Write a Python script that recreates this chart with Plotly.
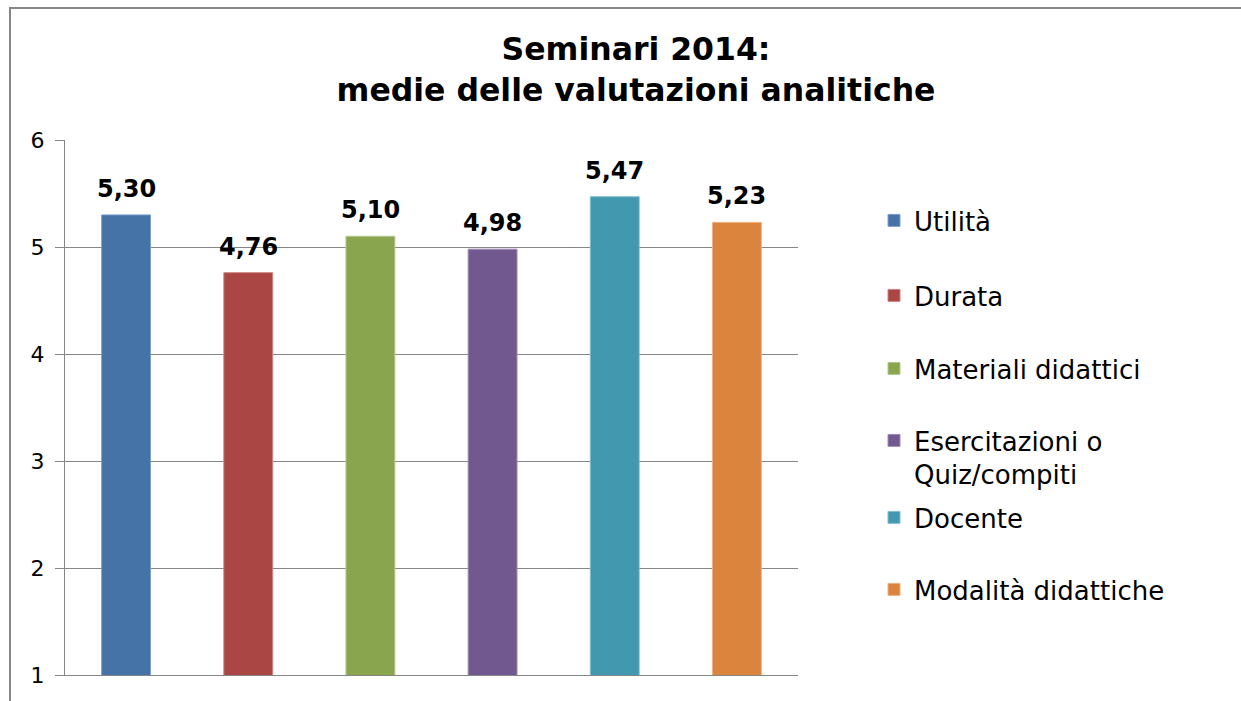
import plotly.graph_objects as go

categories = ["Utilità", "Durata", "Materiali didattici",
              "Esercitazioni o<br>Quiz/compiti", "Docente", "Modalità didattiche"]
values = [5.30, 4.76, 5.10, 4.98, 5.47, 5.23]
colors = ["#4572A7", "#AA4643", "#89A54E", "#71588F", "#4198AF", "#DB843D"]
edge_colors = ["#7F9FCB", "#CC8482", "#B1C98C", "#A08DB8", "#80BFD0", "#EEB085"]
y_ticks = [1, 2, 3, 4, 5, 6]
legend_item_y = [221, 296, 369, 441, 518, 590]  # pixel centre of each legend entry

W, H = 1241, 701
FONT = "DejaVu Sans"

fig = go.Figure()
legend_layouts = {}
for i, (name, v, c, ec) in enumerate(zip(categories, values, colors, edge_colors)):
    lg = "legend" if i == 0 else f"legend{i + 1}"
    fig.add_trace(go.Bar(
        x=[i], y=[v], name=name, width=0.4,
        marker=dict(color=c, line=dict(color=ec, width=1)),
        legend=lg,
        hoverinfo="skip",
    ))
    fig.add_annotation(
        x=i, y=v, xref="x", yref="y", text=f"<b>{v:.2f}</b>".replace(".", ","),
        showarrow=False, yanchor="bottom", yshift=10,
        font=dict(family=FONT, size=24, color="black"),
    )
    legend_layouts[lg] = dict(
        x=874 / W, xanchor="left", xref="container",
        y=1 - (legend_item_y[i] - 24) / H, yanchor="top", yref="container",
        font=dict(family=FONT, size=26, color="black"),
        valign="top", bgcolor="rgba(0,0,0,0)", maxheight=650,
    )

# chart-area border (cropped at right/bottom)
PL, PR, PT, PB = 65, 798, 140, 675
fig.add_shape(type="rect", xref="paper", yref="paper",
              x0=(10 - PL) / (PR - PL), x1=(1250 - PL) / (PR - PL),
              y0=(PB - 710) / (PB - PT), y1=(PB - 8) / (PB - PT),
              line=dict(color="#868686", width=2), fillcolor="rgba(0,0,0,0)",
              layer="below")

fig.update_layout(
    width=W, height=H,
    margin=dict(l=PL, r=W - PR, t=PT, b=H - PB),
    paper_bgcolor="white", plot_bgcolor="white",
    barmode="overlay",
    separators=",.",
    font=dict(family=FONT, color="black"),
    title=dict(
        text="<b>Seminari 2014:<br>medie delle valutazioni analitiche</b>",
        x=636 / W, xanchor="center", xref="container",
        y=1 - 60 / H, yanchor="top", yref="container",
        font=dict(family=FONT, size=31.5, color="black"),
    ),
    showlegend=True,
    **legend_layouts,
)
fig.update_xaxes(range=[-0.5, 5.5], showticklabels=False, ticks="",
                 showgrid=False, zeroline=False, showline=True,
                 linecolor="#868686", linewidth=1, fixedrange=True)
fig.update_yaxes(range=[1, 6], tickvals=y_ticks, ticks="outside", ticklen=9,
                 tickcolor="#868686", showgrid=True, gridcolor="#868686",
                 gridwidth=1, showline=True, linecolor="#868686", linewidth=1,
                 zeroline=False, tickfont=dict(family=FONT, size=22, color="black"),
                 ticklabelstandoff=6)

fig.write_html("out.html", config={"displayModeBar": False},
               post_script="document.body.style.margin='0';")
